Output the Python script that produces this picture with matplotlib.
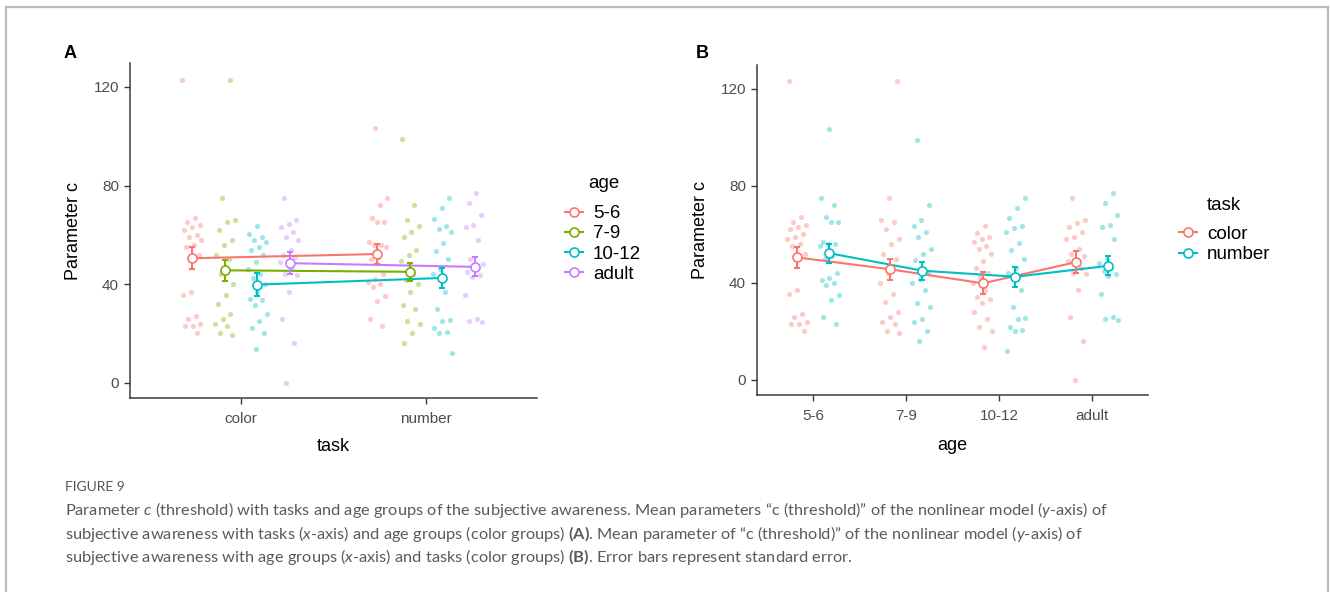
import matplotlib
matplotlib.use("Agg")
import matplotlib.pyplot as plt
from matplotlib.lines import Line2D
from matplotlib.patches import Rectangle

# ---------------- data ----------------
ages = ['5-6', '7-9', '10-12', 'adult']
tasks = ['color', 'number']

mean_color = [50.5, 45.6, 39.8, 48.5]
mean_number = [52.2, 45.0, 42.5, 47.0]
se_color = [4.4, 4.3, 4.6, 4.4]
se_number = [3.9, 3.7, 4.2, 3.9]

pts_color_5_6 = [123, 67, 65, 64, 63, 62, 60, 59, 58, 56, 55, 52, 37, 35.5, 27, 26, 24, 23, 23, 20]
pts_color_7_9 = [123, 75, 66, 65, 62, 58, 56, 52, 50, 44, 40, 35.5, 32, 28, 26, 24, 23, 20, 19.5]
pts_color_10_12 = [63.5, 60.5, 59, 58, 57, 55, 54, 52, 49, 46, 44, 42.5, 40, 37, 34, 33.5, 31.5, 28, 25, 22, 20, 13.5]
pts_color_adult = [75, 66, 64.5, 63, 61, 59, 58, 54, 52, 51, 49.5, 49, 46, 44, 43.5, 37, 26, 16, 0]
pts_number_5_6 = [103.5, 75, 72, 67, 65, 65, 57, 56, 56, 55, 51, 50, 44, 42, 41, 40, 39, 35, 33, 26, 23]
pts_number_7_9 = [99, 72, 66, 63.5, 61, 59, 54, 52, 49.5, 44, 41.5, 40, 37, 31.5, 30, 25, 24, 20, 16]
pts_number_10_12 = [75, 71, 66.5, 63.5, 62.5, 61, 56.5, 53.5, 50, 46, 44, 37, 30, 25.5, 25, 22, 20.5, 20, 12]
pts_number_adult = [77, 73, 68, 64, 63, 58, 50, 48, 46, 45, 43.5, 43, 35.5, 26, 25, 24.5]

pts_color = [pts_color_5_6, pts_color_7_9, pts_color_10_12, pts_color_adult]
pts_number = [pts_number_5_6, pts_number_7_9, pts_number_10_12, pts_number_adult]

# ---------------- style ----------------
age_cols = ['#F8766D', '#7CAE00', '#00BFC4', '#C77CFF']
task_cols = ['#F8766D', '#00BFC4']
W, H = 1330, 592
plt.rcParams['font.family'] = ['Liberation Sans', 'DejaVu Sans']
plt.rcParams['mathtext.fontset'] = 'custom'
plt.rcParams['mathtext.rm'] = 'Lato'
plt.rcParams['mathtext.it'] = 'Lato:italic'
plt.rcParams['mathtext.bf'] = 'Lato:bold'

def jit(n, k, width):
    return [((i * 0.6180339887 + k * 0.37) % 1.0 - 0.5) * 2 * width for i in range(n)]

fig = plt.figure(figsize=(W / 100, H / 100), dpi=100)

def box(l, t, r, b):
    return [l / W, 1 - b / H, (r - l) / W, (b - t) / H]

axA = fig.add_axes(box(130, 63, 537, 398))
axB = fig.add_axes(box(757, 65, 1148, 395))

def style(ax):
    for s in ['top', 'right']:
        ax.spines[s].set_visible(False)
    for s in ['left', 'bottom']:
        ax.spines[s].set_color('#3A3A3A')
        ax.spines[s].set_linewidth(1.1)
    ax.tick_params(length=4, width=1, color='#3A3A3A', labelsize=11, labelcolor='#4D4D4D', pad=4)
    ax.tick_params(axis='x', pad=6)
    ax.set_ylim(-6.2, 129.7)
    ax.set_yticks([0, 40, 80, 120])
    ax.set_ylabel('Parameter c', fontsize=13, labelpad=8)

LW = 1.5
MS = 6.5

def draw_group(ax, xs_center, means, ses, col):
    ax.plot(xs_center, means, color=col, lw=LW, zorder=3)
    ax.errorbar(xs_center, means, yerr=ses, fmt='none', ecolor=col, elinewidth=LW,
                capsize=2.5, capthick=LW, zorder=4)
    ax.plot(xs_center, means, 'o', ms=MS, mfc='white', mec=col, mew=1.2, zorder=5)

# ---------- Panel A: x = task, colour = age ----------
offA = [-0.2625, -0.0875, 0.0875, 0.2625]
means_by_task = [mean_color, mean_number]
se_by_task = [se_color, se_number]
pts_by_task = [pts_color, pts_number]
for g in range(4):
    for t in range(2):
        vals = pts_by_task[t][g]
        xs = [t + 1 + offA[g] + j for j in jit(len(vals), g * 2 + t, 0.055)]
        axA.scatter(xs, vals, s=14, color=age_cols[g], alpha=0.38, linewidths=0, zorder=2)
for g in range(4):
    xc = [t + 1 + offA[g] for t in range(2)]
    draw_group(axA, xc, [means_by_task[t][g] for t in range(2)],
               [se_by_task[t][g] for t in range(2)], age_cols[g])
style(axA)
axA.set_xlim(0.4, 2.6)
axA.set_xticks([1, 2])
axA.set_xticklabels(tasks)
axA.set_xlabel('task', fontsize=13, labelpad=9)

# ---------- Panel B: x = age, colour = task ----------
offB = [-0.175, 0.175]
for t in range(2):
    for g in range(4):
        vals = pts_by_task[t][g]
        xs = [g + 1 + offB[t] + j for j in jit(len(vals), g * 2 + t + 3, 0.11)]
        axB.scatter(xs, vals, s=14, color=task_cols[t], alpha=0.38, linewidths=0, zorder=2)
for t in range(2):
    xc = [g + 1 + offB[t] for g in range(4)]
    draw_group(axB, xc, means_by_task[t], se_by_task[t], task_cols[t])
style(axB)
axB.set_xlim(0.4, 4.6)
axB.set_xticks([1, 2, 3, 4])
axB.set_xticklabels(ages)
axB.set_xlabel('age', fontsize=13, labelpad=10)

# ---------- legends ----------
def handles(cols):
    return [Line2D([], [], color=c, lw=LW, marker='o', ms=MS, mfc='white', mec=c, mew=1.2)
            for c in cols]

leg_kw = dict(loc='center left', frameon=False, fontsize=13.5, handlelength=0.95,
              handletextpad=0.55, labelspacing=0.17, borderpad=0, borderaxespad=0)
fig.legend(handles(age_cols), ages, bbox_to_anchor=(565 / W, 1 - 244 / H), **leg_kw)
fig.text(604 / W, 1 - 184 / H, 'age', fontsize=13.5, ha='center', va='center')
fig.legend(handles(task_cols), tasks, bbox_to_anchor=(1179 / W, 1 - 244.5 / H), **leg_kw)
fig.text(1224 / W, 1 - 205 / H, 'task', fontsize=13.5, ha='center', va='center')

# ---------- panel letters ----------
fig.text(70 / W, 1 - 53 / H, 'A', fontsize=13, fontweight='bold', ha='center', va='center')
fig.text(702 / W, 1 - 53 / H, 'B', fontsize=13, fontweight='bold', ha='center', va='center')

# ---------- frame ----------
fig.add_artist(Rectangle((6 / W, -0.02), (1328 - 6) / W, 1.02 - 7 / H,
                         transform=fig.transFigure, fill=False, edgecolor='#BBBBBB',
                         linewidth=1.6))

# ---------- caption ----------
cap_col = '#5A5A5A'
fig.text(65 / W, 1 - 487 / H, 'FIGURE 9', fontsize=10, color='#555555',
         family=['Liberation Sans Narrow', 'Lato'], va='center', ha='left')
cap_lines = [
    r'Parameter $\it{c}$ (threshold) with tasks and age groups of the subjective awareness. '
    r'Mean parameters “c (threshold)” of the nonlinear model ($\it{y}$-axis) of',
    r'subjective awareness with tasks ($\it{x}$-axis) and age groups (color groups) $\bf{(A)}$. '
    r'Mean parameter of “c (threshold)” of the nonlinear model ($\it{y}$-axis) of',
    r'subjective awareness with age groups ($\it{x}$-axis) and tasks (color groups) $\bf{(B)}$. '
    r'Error bars represent standard error.',
]
for i, line in enumerate(cap_lines):
    fig.text(65 / W, 1 - (510 + 23.5 * i) / H, line, fontsize=11.8, color=cap_col,
             family='Lato', va='center', ha='left')

fig.savefig('out.png', dpi=100)
